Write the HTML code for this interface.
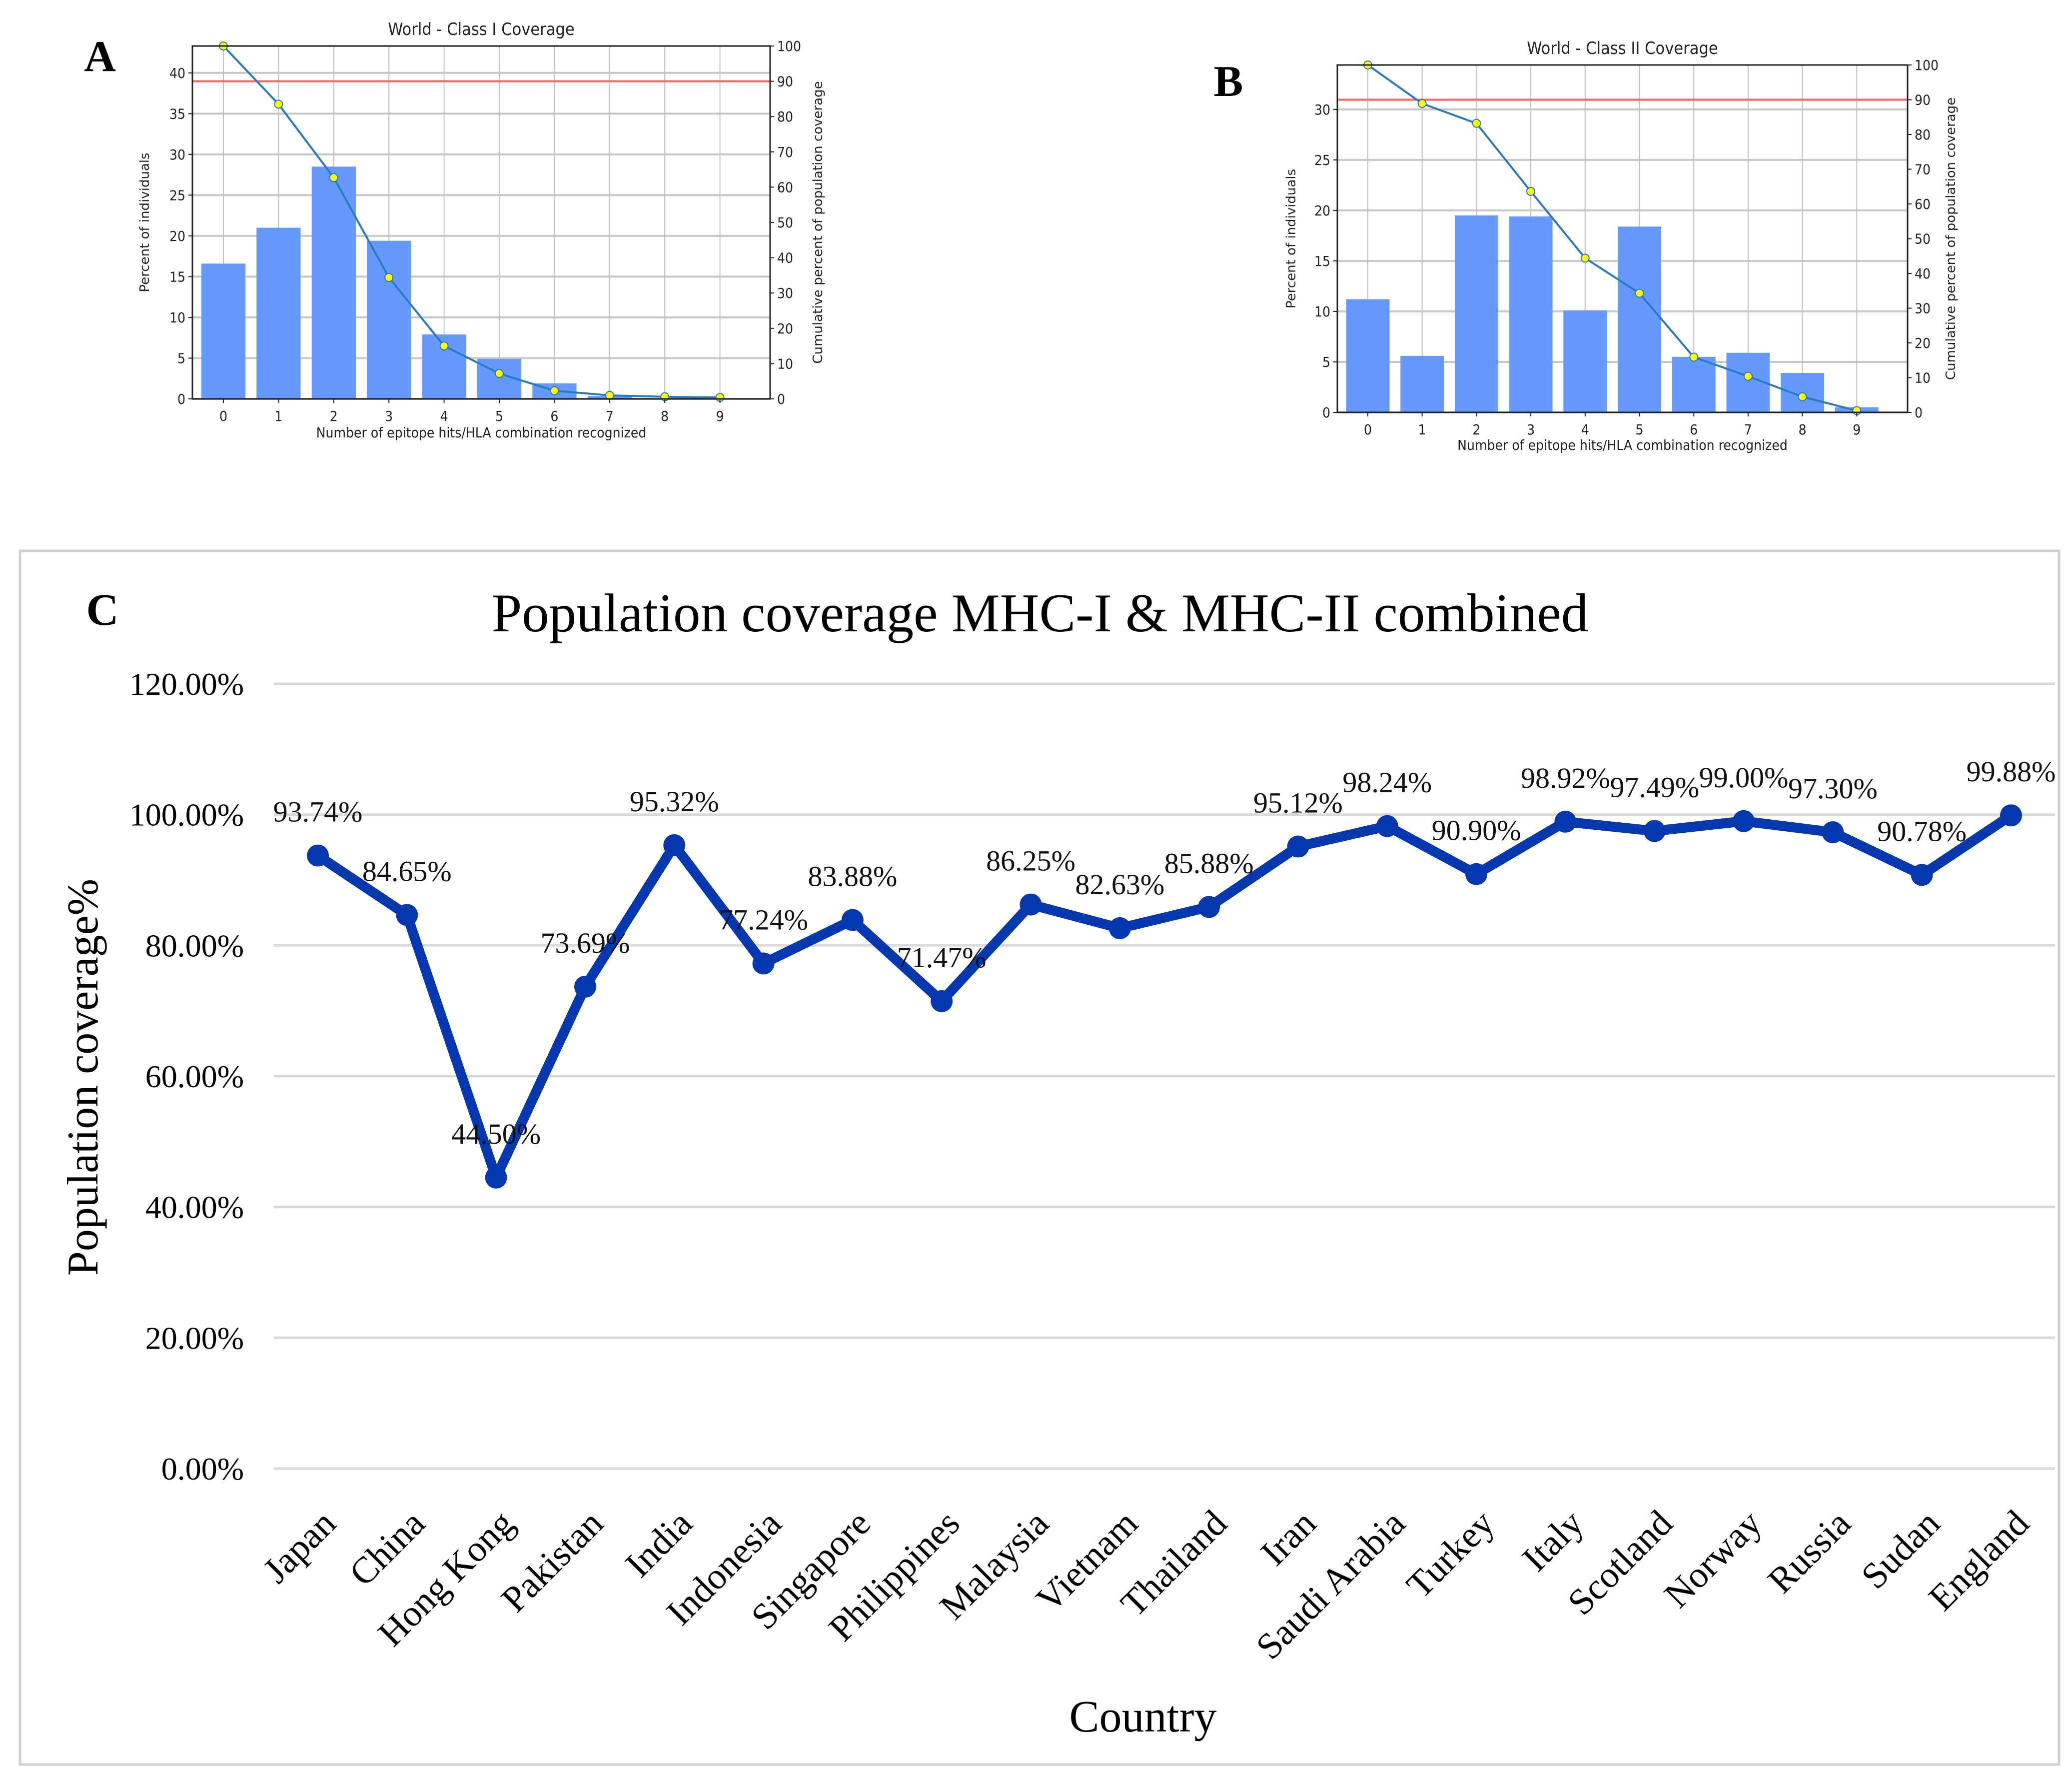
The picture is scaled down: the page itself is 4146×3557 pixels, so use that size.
<!DOCTYPE html>
<html><head><meta charset="utf-8"><style>
html,body{margin:0;padding:0;background:#fff;}
svg{display:block;}
.sans{font-family:"DejaVu Sans Condensed","Liberation Sans Narrow","Liberation Sans",sans-serif;font-stretch:condensed;}
.serif{font-family:"Liberation Serif",serif;}
</style></head><body>
<svg id="root" width="4146" height="3557" viewBox="0 0 4146 3557" xmlns="http://www.w3.org/2000/svg">
<rect x="0" y="0" width="4146" height="3557" fill="#fff"/>
<g id="panelA"></g>
<g id="panelB"></g>
<g id="panelC"></g>
</svg>
<script>
// Panel A data
const aCategories = [0,1,2,3,4,5,6,7,8,9];
const aBars = [16.6, 21.0, 28.5, 19.4, 7.9, 4.9, 1.9, 0.35, 0.1, 0.05];
const aCumulative = [100, 83.5, 62.7, 34.4, 15.0, 7.2, 2.3, 1.0, 0.6, 0.4];
const aLeftTicks = [0,5,10,15,20,25,30,35,40];
const aRightTicks = [0,10,20,30,40,50,60,70,80,90,100];
// Panel B data
const bCategories = [0,1,2,3,4,5,6,7,8,9];
const bBars = [11.2, 5.6, 19.5, 19.4, 10.1, 18.4, 5.5, 5.9, 3.9, 0.5];
const bCumulative = [100, 88.9, 83.2, 63.6, 44.4, 34.3, 15.9, 10.4, 4.5, 0.5];
const bLeftTicks = [0,5,10,15,20,25,30];
const bRightTicks = [0,10,20,30,40,50,60,70,80,90,100];
const threshold = 90;
// Panel C data
const countries = ["Japan","China","Hong Kong","Pakistan","India","Indonesia","Singapore","Philippines","Malaysia","Vietnam","Thailand","Iran","Saudi Arabia","Turkey","Italy","Scotland","Norway","Russia","Sudan","England"];
const coverage = [93.74,84.65,44.50,73.69,95.32,77.24,83.88,71.47,86.25,82.63,85.88,95.12,98.24,90.90,98.92,97.49,99.00,97.30,90.78,99.88];
const cTicks = [0,20,40,60,80,100,120];

const NS = "http://www.w3.org/2000/svg";
function mk(parent, tag, attrs, text){
  const e = document.createElementNS(NS, tag);
  for (const k in attrs) e.setAttribute(k, attrs[k]);
  if (text !== undefined) e.textContent = text;
  parent.appendChild(e);
  return e;
}

function drawPanel(g, cfg){
  const L=cfg.left,R=cfg.right,T=cfg.top,B=cfg.bottom;
  const x0=cfg.x0, dx=cfg.dx;
  const xs = v => x0 + v*dx;
  const yl = v => B - (B-T)*v/cfg.ymax;
  const yr = v => B - (B-T)*v/100;
  cfg.leftTicks.forEach(t=>{
    const ln = mk(g,'line',{x1:L,x2:R,y1:yl(t),y2:yl(t),stroke:'#c8c8c8','stroke-width':4});
    
    
  });
  cfg.cats.forEach(c=>{
    const ln = mk(g,'line',{x1:xs(c),x2:xs(c),y1:T,y2:B,stroke:'#c0c0c0','stroke-width':2});
    
    
  });
  const bw = 0.8*dx;
  cfg.bars.forEach((v,i)=>{
    const r = mk(g,'rect',{x:xs(cfg.cats[i])-bw/2,y:yl(v),width:bw,height:B-yl(v),fill:'#6699ff'});
    
    
  });
  const rl = mk(g,'line',{x1:L,x2:R,y1:yr(threshold),y2:yr(threshold),stroke:'#ff6060','stroke-width':4});
  
  
  const pts = cfg.cum.map((v,i)=>xs(cfg.cats[i])+','+yr(v)).join(' ');
  const pl = mk(g,'polyline',{points:pts,fill:'none',stroke:'#2b7bba','stroke-width':4});
  
  
  cfg.cum.forEach((v,i)=>{
    const c = mk(g,'circle',{cx:xs(cfg.cats[i]),cy:yr(v),r:8,fill:'#ffff00',stroke:'#2b7bba','stroke-width':2});
    
    
  });
  const fr = mk(g,'rect',{x:L,y:T,width:R-L,height:B-T,fill:'none',stroke:'#222','stroke-width':3});
  
  
  cfg.leftTicks.forEach(t=>{
    mk(g,'line',{x1:L-8,x2:L,y1:yl(t),y2:yl(t),stroke:'#222','stroke-width':2});
    const tx = mk(g,'text',{x:L-14,y:yl(t)+10,'text-anchor':'end','font-size':28,fill:'#222',class:'sans'},String(t));
    
    
  });
  cfg.rightTicks.forEach(t=>{
    mk(g,'line',{x1:R,x2:R+8,y1:yr(t),y2:yr(t),stroke:'#222','stroke-width':2});
    const tx = mk(g,'text',{x:R+14,y:yr(t)+10,'text-anchor':'start','font-size':28,fill:'#222',class:'sans'},String(t));
    
    
  });
  cfg.cats.forEach(c=>{
    mk(g,'line',{x1:xs(c),x2:xs(c),y1:B,y2:B+8,stroke:'#222','stroke-width':2});
    const tx = mk(g,'text',{x:xs(c),y:B+44,'text-anchor':'middle','font-size':28,fill:'#222',class:'sans'},String(c));
    
    
  });
  const ti = mk(g,'text',{x:(L+R)/2,y:cfg.titleY,'text-anchor':'middle','font-size':34,fill:'#222',class:'sans'},cfg.title);
  
  
  const xl = mk(g,'text',{x:(L+R)/2,y:cfg.xlabelY,'text-anchor':'middle','font-size':28,fill:'#222',class:'sans'},'Number of epitope hits/HLA combination recognized');
  
  
  const ly = (T+B)/2;
  const yl1 = mk(g,'text',{x:cfg.ylabX,y:ly,'text-anchor':'middle','font-size':26,fill:'#222','font-family':'DejaVu Sans, sans-serif',transform:'rotate(-90 '+cfg.ylabX+' '+ly+')'},'Percent of individuals');
  
  
  const yr1 = mk(g,'text',{x:cfg.yrabX,y:ly,'text-anchor':'middle','font-size':26,fill:'#222','font-family':'DejaVu Sans, sans-serif',transform:'rotate(-90 '+cfg.yrabX+' '+ly+')'},'Cumulative percent of population coverage');
  
  
  const pl2 = mk(g,'text',{x:cfg.letterX,y:cfg.letterY,'text-anchor':'middle','font-size':88,'font-weight':'bold',fill:'#000',class:'serif'},cfg.letter);
  
  
}

drawPanel(document.getElementById('panelA'),{
  left:385,right:1541,top:92,bottom:798,x0:447,dx:110.4,ymax:43.3,
  cats:aCategories,bars:aBars,cum:aCumulative,leftTicks:aLeftTicks,rightTicks:aRightTicks,
  title:'World - Class I Coverage',titleY:70,xlabelY:875,ylabX:298,yrabX:1645,letter:'A',letterX:200,letterY:142
});
drawPanel(document.getElementById('panelB'),{
  left:2676,right:3817,top:130,bottom:825,x0:2737,dx:108.7,ymax:34.4,
  cats:bCategories,bars:bBars,cum:bCumulative,leftTicks:bLeftTicks,rightTicks:bRightTicks,
  title:'World - Class II Coverage',titleY:108,xlabelY:900,ylabX:2592,yrabX:3912,letter:'B',letterX:2458,letterY:192
});

(function(){
  const g = document.getElementById('panelC');
  const L=548,R=4112,x0=636,dx=(4024-636)/19;
  const y0=2938, yPer=(2938-1368)/120;
  const xs = i => x0 + i*dx;
  const ys = v => y0 - v*yPer;
  const box = mk(g,'rect',{x:40,y:1102,width:4080,height:2428,fill:'none',stroke:'#d0d0d0','stroke-width':5});
  
  
  const c = mk(g,'text',{x:205,y:1250,'text-anchor':'middle','font-size':90,'font-weight':'bold',class:'serif',fill:'#000'},'C');
  
  
  const t = mk(g,'text',{x:2081,y:1263,'text-anchor':'middle','font-size':109,class:'serif',fill:'#000'},'Population coverage MHC-I & MHC-II combined');
  
  
  cTicks.forEach(v=>{
    const ln = mk(g,'line',{x1:L,x2:R,y1:ys(v),y2:ys(v),stroke:'#d9d9d9','stroke-width':5});
    
    
    const tx = mk(g,'text',{x:488,y:ys(v)+22,'text-anchor':'end','font-size':64,class:'serif',fill:'#000'},v.toFixed(2)+'%');
    
    
  });
  const pts = coverage.map((v,i)=>xs(i)+','+ys(v)).join(' ');
  const pl = mk(g,'polyline',{points:pts,fill:'none',stroke:'#0638b0','stroke-width':20,'stroke-linejoin':'round'});
  
  
  coverage.forEach((v,i)=>{
    const m = mk(g,'circle',{cx:xs(i),cy:ys(v),r:22,fill:'#0638b0'});
    
    
  });
  coverage.forEach((v,i)=>{
    const tx = mk(g,'text',{x:xs(i),y:ys(v)-68,'text-anchor':'middle','font-size':58,class:'serif',fill:'#111'},v.toFixed(2)+'%');
    
    
  });
  countries.forEach((n,i)=>{
    const ax = xs(i)+40, ay = 3052;
    const tx = mk(g,'text',{x:ax,y:ay,'text-anchor':'end','font-size':74,class:'serif',fill:'#000',transform:'rotate(-45 '+ax+' '+ay+')'},n);
    
    
  });
  const xt = mk(g,'text',{x:2287,y:3464,'text-anchor':'middle','font-size':90,class:'serif',fill:'#000'},'Country');
  
  
  const yt = mk(g,'text',{x:195,y:2155,'text-anchor':'middle','font-size':88,class:'serif',fill:'#000',transform:'rotate(-90 195 2155)'},'Population coverage%');
  
  
})();
</script>
</body></html>
